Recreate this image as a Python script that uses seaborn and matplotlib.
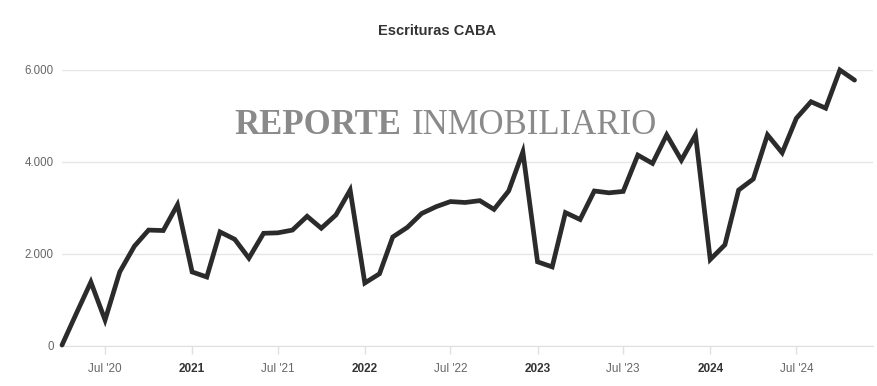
import pandas as pd
import numpy as np
import matplotlib.pyplot as plt
import matplotlib.ticker as mticker
import seaborn as sns

# monthly deeds, Apr 2020 .. Nov 2024
start = '2020-04-01'
escrituras = [20, 700, 1390, 565, 1610, 2170, 2520, 2510, 3070,
              1610, 1500, 2480, 2320, 1910, 2450, 2460, 2520, 2820, 2560, 2850, 3390,
              1370, 1570, 2370, 2580, 2880, 3030, 3140, 3120, 3160, 2970, 3370, 4220,
              1830, 1720, 2900, 2750, 3370, 3330, 3360, 4150, 3970, 4590, 4040, 4590,
              1880, 2200, 3390, 3630, 4590, 4200, 4950, 5310, 5170, 6000, 5780]
tick_dates = ['2020-07-01', '2021-01-01', '2021-07-01', '2022-01-01', '2022-07-01',
              '2023-01-01', '2023-07-01', '2024-01-01', '2024-07-01']
tick_labels = ["Jul '20", '2021', "Jul '21", '2022', "Jul '22",
               '2023', "Jul '23", '2024', "Jul '24"]

df = pd.DataFrame({'fecha': pd.date_range(start, periods=len(escrituras), freq='MS'),
                   'escrituras': escrituras})

sns.set_style('white')
plt.rcParams['font.family'] = ['Liberation Sans', 'DejaVu Sans']

fig = plt.figure(figsize=(8.77, 3.86), dpi=100)
ax = fig.add_axes([62/877, 1-346/386, (873-62)/877, (346-70)/386])

sns.lineplot(data=df, x='fecha', y='escrituras', color='#2b2b2b', lw=3.4,
             ax=ax, clip_on=False, solid_joinstyle='miter', zorder=5)

ax.set_xlim(pd.Timestamp('2020-04-01'), pd.Timestamp('2024-12-10'))
ax.set_ylim(0, 6000)
ax.set_yticks([0, 2000, 4000, 6000])
ax.yaxis.set_major_formatter(mticker.FuncFormatter(lambda v, p: f'{int(v):,}'.replace(',', '.')))
ax.grid(axis='y', color='#e6e6e6', lw=1)
ax.set_xticks(pd.to_datetime(tick_dates))
ax.set_xticklabels(tick_labels)
for lbl in ax.get_xticklabels():
    if "'" not in lbl.get_text():
        lbl.set_fontweight('bold')
        lbl.set_color('#333333')
    else:
        lbl.set_color('#666666')

ax.tick_params(axis='x', length=6, width=1, color='#e0e0e0', labelsize=8.5, pad=6, bottom=True)
ax.tick_params(axis='y', length=0, labelsize=8.3, labelcolor='#666666', pad=6)
sns.despine(ax=ax, left=True, top=True, right=True)
ax.spines['bottom'].set_color('#e0e0e0')
ax.set_xlabel('')
ax.set_ylabel('')

fig.text(0.498, 1-31/386, 'Escrituras CABA', ha='center', va='center',
         fontsize=10.5, fontweight='bold', color='#333333')

# watermark
fig.text(401/877, 1-126/386, 'REPORTE', ha='right', va='center', family='Liberation Serif',
         fontsize=25, fontweight='bold', color='#8a8a8a', zorder=0)
fig.text(412/877, 1-126/386, 'INMOBILIARIO', ha='left', va='center', family='Liberation Serif',
         fontsize=25, color='#8a8a8a', zorder=0)

plt.savefig('out.png', dpi=100)
